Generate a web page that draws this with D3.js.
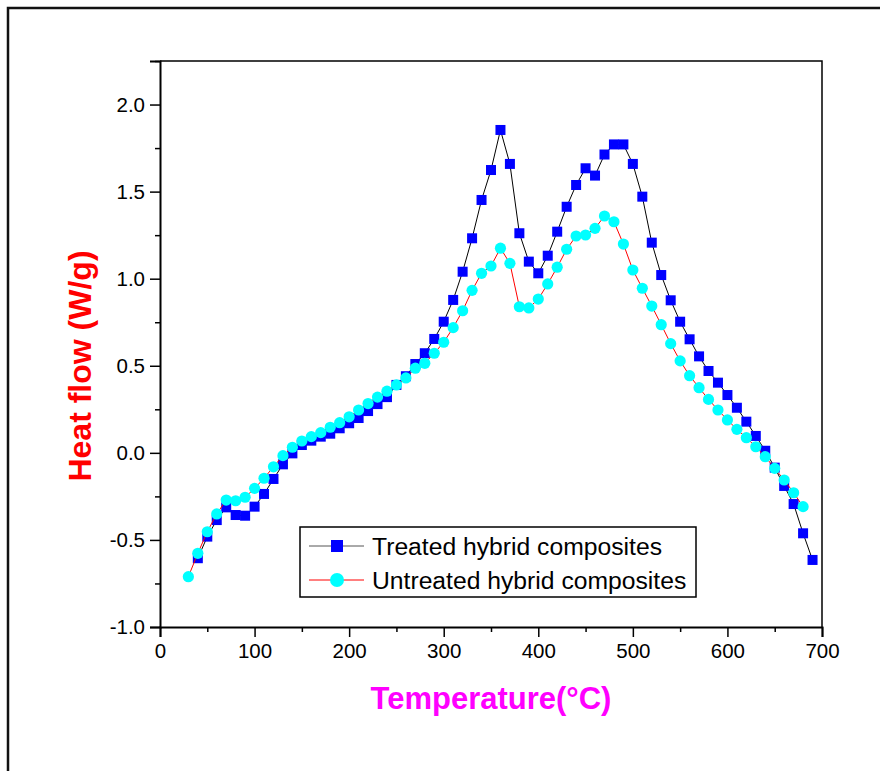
<!DOCTYPE html>
<html>
<head>
<meta charset="utf-8">
<script src="https://cdn.jsdelivr.net/npm/d3@7"></script>
<style>
  body { margin: 0; background: #fff; }
  svg { display: block; font-family: "Liberation Sans", Arial, sans-serif; }
</style>
</head>
<body>
<svg width="880" height="771"></svg>
<script>
// data
const treatedX = d3.range(40, 700, 10);
const treatedY = [
  -0.605, -0.481, -0.386, -0.313, -0.357, -0.361, -0.309, -0.236, -0.150, -0.066,
  -0.003, 0.045, 0.070, 0.093, 0.110, 0.141, 0.170, 0.200, 0.240, 0.280,
  0.320, 0.390, 0.440, 0.510, 0.572, 0.654, 0.753, 0.878, 1.040, 1.232,
  1.452, 1.624, 1.854, 1.659, 1.261, 1.098, 1.031, 1.132, 1.270, 1.413,
  1.538, 1.634, 1.592, 1.713, 1.771, 1.771, 1.659, 1.471, 1.207, 1.021,
  0.876, 0.753, 0.652, 0.554, 0.470, 0.403, 0.332, 0.259, 0.179, 0.097,
  0.012, -0.085, -0.190, -0.294, -0.462, -0.615
];
const untreatedX = d3.range(30, 690, 10);
const untreatedY = [
  -0.711, -0.577, -0.453, -0.351, -0.271, -0.275, -0.255, -0.204, -0.146, -0.080,
  -0.016, 0.032, 0.068, 0.093, 0.116, 0.147, 0.173, 0.207, 0.246, 0.283,
  0.320, 0.354, 0.390, 0.430, 0.486, 0.514, 0.572, 0.635, 0.719, 0.816,
  0.933, 1.031, 1.073, 1.175, 1.088, 0.839, 0.832, 0.883, 0.970, 1.066,
  1.169, 1.245, 1.251, 1.289, 1.360, 1.327, 1.199, 1.050, 0.945, 0.843,
  0.736, 0.627, 0.528, 0.443, 0.374, 0.307, 0.246, 0.189, 0.135, 0.087,
  0.035, -0.022, -0.089, -0.156, -0.229, -0.309
];
const seriesNames = ['Treated hybrid composites', 'Untreated hybrid composites'];
const xTicks = d3.range(0, 701, 100);
const yTicks = [-1.0, -0.5, 0.0, 0.5, 1.0, 1.5, 2.0];

// 0. setup
// ----------------------------------
const svg = d3.select('svg');
const plot = {left: 160, right: 822, top: 61, bottom: 627};

const x = d3.scaleLinear().domain([0, 700]).range([plot.left, plot.right]);
const y = d3.scaleLinear().domain([-1, 2.25]).range([plot.bottom, plot.top]);

// outer frame (only top and left edges are in view)
svg.append('path')
    .attr('d', 'M8,771V8H880')
    .attr('fill', 'none')
    .attr('stroke', '#111')
    .attr('stroke-width', 2.5);

// 1. axes
// ----------------------------------
svg.append('path')
    .attr('d', `M${plot.left},${plot.top}H${plot.right}V${plot.bottom}`)
    .attr('fill', 'none')
    .attr('stroke', '#000')
    .attr('stroke-width', 1.5);

const xAxis = svg.append('g')
    .attr('transform', `translate(0,${plot.bottom})`)
    .call(d3.axisBottom(x).tickValues(xTicks).tickSize(10).tickPadding(6)
        .tickFormat(d3.format('d')));

svg.append('g')
    .attr('transform', `translate(0,${plot.bottom})`)
    .call(d3.axisBottom(x).tickValues(d3.range(50, 700, 100)).tickSize(5).tickFormat(''))
    .call((g) => g.select('.domain').remove());

const yAxis = svg.append('g')
    .attr('transform', `translate(${plot.left},0)`)
    .call(d3.axisLeft(y).tickValues(yTicks).tickSize(10).tickPadding(5)
        .tickFormat(d3.format('.1f')));

svg.append('g')
    .attr('transform', `translate(${plot.left},0)`)
    .call(d3.axisLeft(y).tickValues([-0.75, -0.25, 0.25, 0.75, 1.25, 1.75, 2.25])
        .tickSize(5).tickFormat(''))
    .call((g) => g.select('.domain').remove());

svg.selectAll('.tick line').attr('stroke-width', 1.5);
[xAxis, yAxis].forEach((g) => {
  g.select('.domain').attr('stroke-width', 2);
  g.selectAll('text')
      .attr('font-size', 20.5)
      .attr('font-family', '"Liberation Sans", Arial, sans-serif')
      .attr('fill', '#000');
});
yAxis.selectAll('text').text((d) => d3.format('.1f')(d).replace('−', '-'));

svg.append('text')
    .attr('x', 491)
    .attr('y', 709)
    .attr('text-anchor', 'middle')
    .attr('font-size', 31)
    .attr('font-weight', 'bold')
    .attr('fill', '#ff00ff')
    .text('Temperature(°C)');

svg.append('text')
    .attr('transform', 'translate(91,366) rotate(-90)')
    .attr('text-anchor', 'middle')
    .attr('font-size', 32)
    .attr('font-weight', 'bold')
    .attr('fill', '#ff0000')
    .text('Heat flow (W/g)');

// 2. series
// ----------------------------------
const treated = treatedX.map((t, i) => ({t, v: treatedY[i]}));
const untreated = untreatedX.map((t, i) => ({t, v: untreatedY[i]}));

const line = d3.line().x((d) => x(d.t)).y((d) => y(d.v));

svg.append('path')
    .datum(treated)
    .attr('d', line)
    .attr('fill', 'none')
    .attr('stroke', '#000')
    .attr('stroke-width', 1);

svg.append('g').selectAll('rect')
    .data(treated)
    .enter()
    .append('rect')
    .attr('x', (d) => x(d.t) - 5)
    .attr('y', (d) => y(d.v) - 5)
    .attr('width', 10)
    .attr('height', 10)
    .attr('fill', '#0000ff');

svg.append('path')
    .datum(untreated)
    .attr('d', line)
    .attr('fill', 'none')
    .attr('stroke', '#ff0000')
    .attr('stroke-width', 1);

svg.append('g').selectAll('circle')
    .data(untreated)
    .enter()
    .append('circle')
    .attr('cx', (d) => x(d.t))
    .attr('cy', (d) => y(d.v))
    .attr('r', 5.6)
    .attr('fill', '#00ffff');

// 3. legend
// ----------------------------------
const legend = svg.append('g');
legend.append('rect')
    .attr('x', 300)
    .attr('y', 527)
    .attr('width', 396)
    .attr('height', 70)
    .attr('fill', '#fff')
    .attr('stroke', '#000')
    .attr('stroke-width', 1.5);

const rows = legend.selectAll('g.row')
    .data(seriesNames)
    .enter()
    .append('g')
    .classed('row', true)
    .attr('transform', (d, i) => `translate(0,${546 + i * 34})`);

rows.append('line')
    .attr('x1', 309)
    .attr('x2', 364)
    .attr('stroke', (d, i) => i === 0 ? '#555' : '#ff0000')
    .attr('stroke-width', 1);

rows.filter((d, i) => i === 0).append('rect')
    .attr('x', 331).attr('y', -6).attr('width', 12).attr('height', 12)
    .attr('fill', '#0000ff');

rows.filter((d, i) => i === 1).append('circle')
    .attr('cx', 337).attr('r', 7)
    .attr('fill', '#00ffff');

rows.append('text')
    .attr('x', 372)
    .attr('y', 9)
    .attr('font-size', 24.7)
    .attr('fill', '#000')
    .text((d) => d);
</script>
</body>
</html>
